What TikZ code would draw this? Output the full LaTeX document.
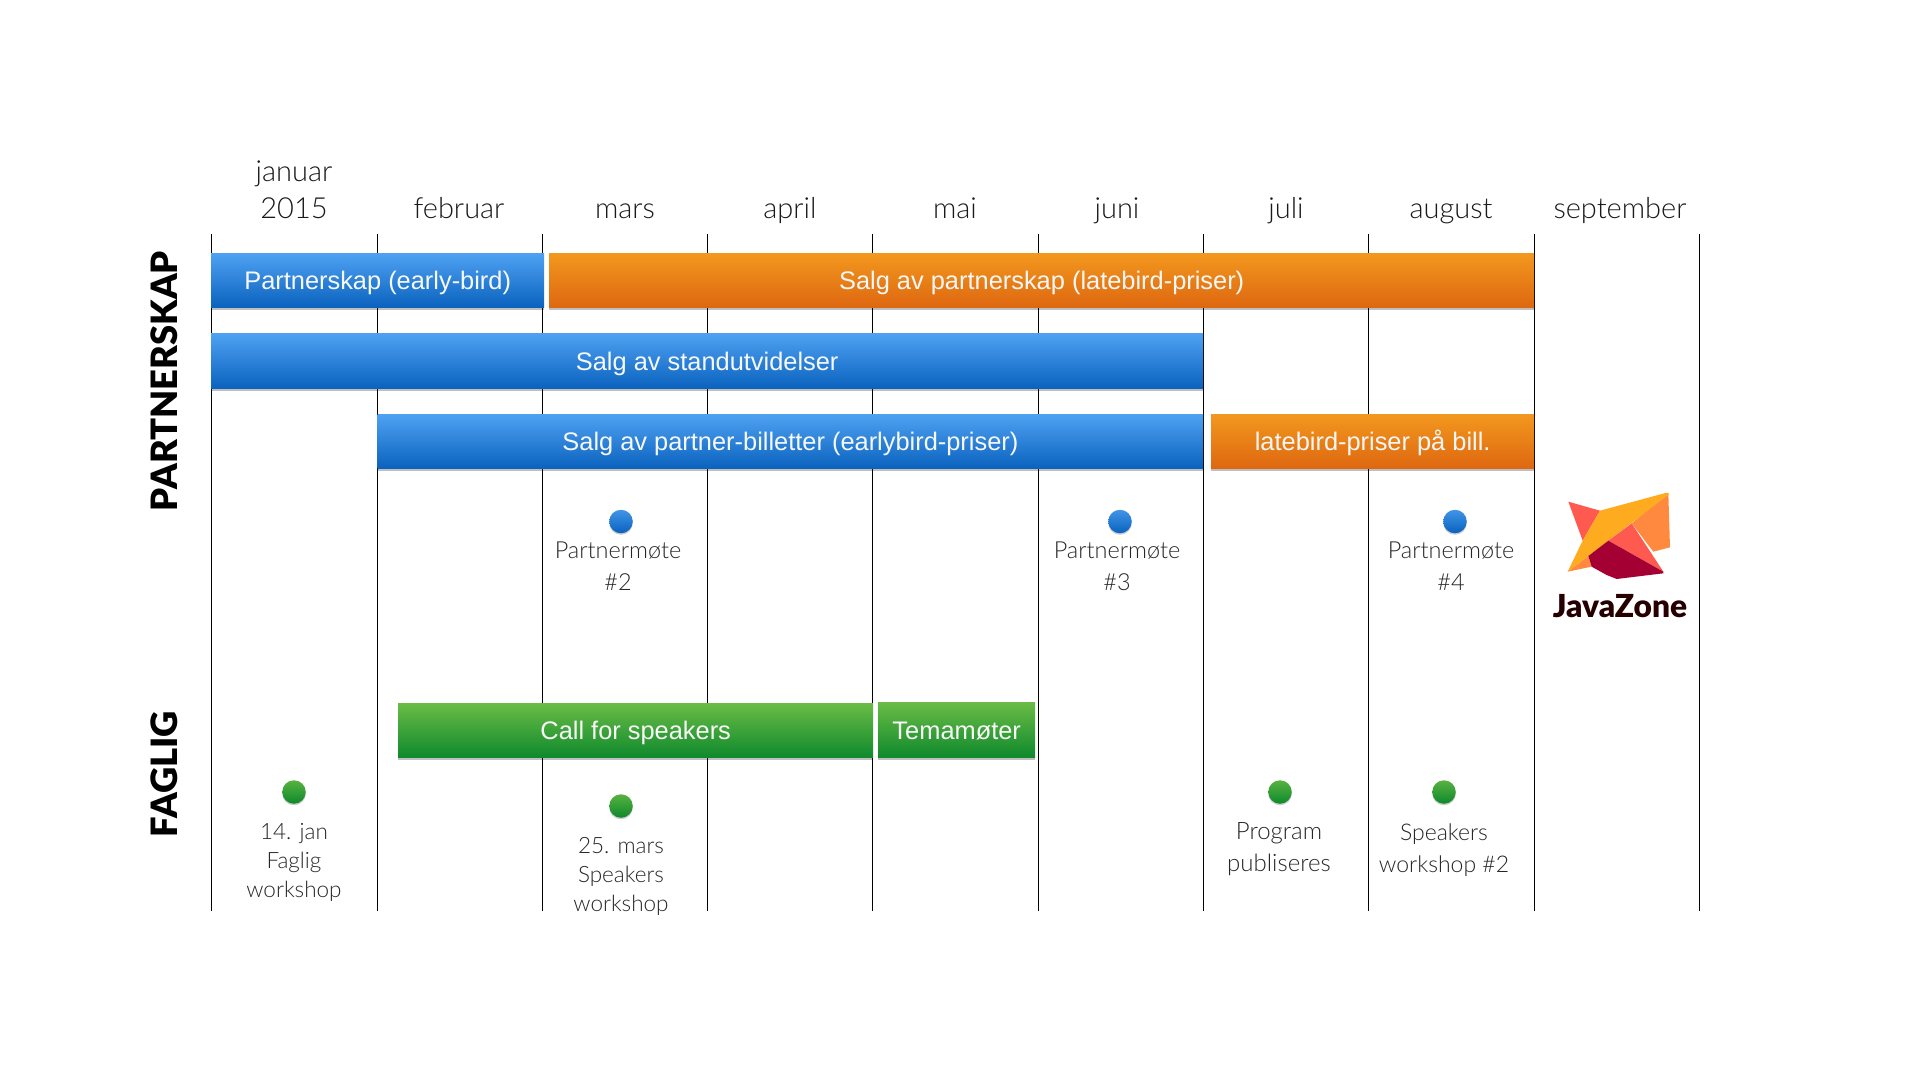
\documentclass[tikz,border=0pt]{standalone}
\usepackage{fontspec}
\setmainfont{Liberation Sans}
\newfontfamily\thinfont{Lato Light}
\newfontfamily\heavyfont{Lato Black}
\usetikzlibrary{shadows}

\definecolor{blueTop}{HTML}{4FA2F2}
\definecolor{blueBot}{HTML}{0A62BE}
\definecolor{orangeTop}{HTML}{F2981E}
\definecolor{orangeBot}{HTML}{DE6710}
\definecolor{greenTop}{HTML}{6ABC46}
\definecolor{greenBot}{HTML}{0E892C}
\definecolor{logoRed}{HTML}{FF5A50}
\definecolor{logoYellow}{HTML}{FFAB1F}
\definecolor{logoOrange}{HTML}{FF8A3F}
\definecolor{logoCrimson}{HTML}{A50034}

\tikzset{
	bar/.style = {rectangle, anchor = north west, inner sep = 0, text = white!97!black, text height = 25pt, text depth = 6pt,
		font = \fontsize{25.4}{32}\selectfont,
		drop shadow = {shadow xshift = 0pt, shadow yshift = -2pt, opacity = 0.25, fill = black}},
	bluebar/.style = {bar, top color = blueTop, bottom color = blueBot},
	orangebar/.style = {bar, top color = orangeTop, bottom color = orangeBot},
	greenbar/.style = {bar, top color = greenTop, bottom color = greenBot},
	bluedot/.style = {circle, minimum size = 23.5, inner sep = 0, top color = blueTop!80!blueBot, bottom color = blueBot,
		drop shadow = {shadow xshift = 0pt, shadow yshift = -1.5pt, opacity = 0.2, fill = black}},
	greendot/.style = {circle, minimum size = 23.5, inner sep = 0, top color = greenTop!80!greenBot, bottom color = greenBot,
		drop shadow = {shadow xshift = 0pt, shadow yshift = -1.5pt, opacity = 0.2, fill = black}},
	month/.style = {align = center, text = black!90, font = \thinfont\fontsize{29}{37}\selectfont},
	note/.style = {align = center, text = black!85, font = \thinfont\fontsize{23.5}{32}\selectfont},
	event/.style = {align = center, text = black!85, font = \thinfont\fontsize{22.5}{29}\selectfont},
	side/.style = {rotate = 90, font = \heavyfont\fontsize{36.3}{40}\selectfont}
}

\begin{document}
\begin{tikzpicture}[x = 1pt, y = -1pt]

	\useasboundingbox (0, 0) rectangle (1920, 1080);

	% Month lines

	\foreach \x in {211, 377.5, 542.5, 707, 872, 1038, 1203, 1368, 1534, 1699}
		\draw [line width = 1] (\x, 234) -- (\x, 911);

	% Month labels

	\node [month, anchor = south] (jan) at (294, 222) {januar\\2015};
	\foreach \name/\x/\label in {feb/459/februar, mar/625/mars, apr/790/april, may/955/mai, jun/1117/juni, jul/1286/juli, aug/1451/august, sep/1620/september}
		\node [month, anchor = base] (\name) at (\x, 218) {\label};

	% Side labels

	\node [side] (partnerskap) at (164, 381) {PARTNERSKAP};
	\node [side] (faglig) at (164, 774) {FAGLIG};

	% Bars

	\node [bluebar, minimum width = 333, minimum height = 54.5] (earlybird) at (211, 253) {Partnerskap (early-bird)};
	\node [orangebar, minimum width = 985, minimum height = 54.5] (latebird) at (549, 253) {Salg av partnerskap (latebird-priser)};
	\node [bluebar, minimum width = 992, minimum height = 55.5] (stand) at (211, 333) {Salg av standutvidelser};
	\node [bluebar, minimum width = 825.5, minimum height = 54.5] (tickets) at (377.5, 414) {Salg av partner-billetter (earlybird-priser)};
	\node [orangebar, minimum width = 323, minimum height = 54.5] (latetickets) at (1211, 414) {latebird-priser på bill.};
	\node [greenbar, minimum width = 475, minimum height = 54.5] (speakers) at (398, 703) {Call for speakers};
	\node [greenbar, minimum width = 157, minimum height = 55.5] (tema) at (878, 702) {Temamøter};

	% Partner meetings

	\foreach \name/\x/\tx/\n in {two/621/618/2, three/1120/1117/3, four/1455/1451/4} {
		\node [bluedot] (dot\name) at (\x, 521.5) {};
		\node [note, anchor = north] (meet\name) at (\tx, 538) {Partnermøte\\\#\n};
	}

	% Speaker events

	\node [greendot] (dotjan) at (294, 792) {};
	\node [event, anchor = north] (evjan) at (294, 819.5) {14. jan\\Faglig\\workshop};
	\node [greendot] (dotmar) at (621, 806) {};
	\node [event, anchor = north] (evmar) at (621, 833.5) {25. mars\\Speakers\\workshop};
	\node [greendot] (dotjul) at (1280, 792) {};
	\node [note, anchor = north, font = \thinfont\fontsize{24}{32}\selectfont] (evjul) at (1279, 819) {Program\\publiseres};
	\node [greendot] (dotaug) at (1444, 792) {};
	\node [note, anchor = north, font = \thinfont\fontsize{23}{32}\selectfont] (evaug) at (1444, 820) {Speakers\\workshop \#2};

	% Logo

	\begin{scope}[shift = {(1500, 460)}, x = 0.3333pt, y = -0.3333pt, line join = round]
		\fill [logoRed] (205, 125) -- (300, 152) -- (248, 242) -- cycle;
		\fill [logoOrange] (505, 98) -- (510, 262) -- (460, 275) -- (395, 190) -- cycle;
		\fill [logoOrange] (203, 335) -- (265, 288) -- (275, 320) -- cycle;
		\fill [logoYellow] (300, 152) -- (500, 98) -- (508, 102) -- (325, 242) -- (265, 288) -- (203, 335) -- (248, 242) -- cycle;
		\fill [logoRed] (395, 190) -- (490, 335) -- (325, 242) -- cycle;
		\fill [logoCrimson] (325, 242) -- (490, 335) -- (490, 340) -- (350, 357) -- (320, 345) -- (275, 320) -- (265, 288) -- cycle;
	\end{scope}
	\node [font = \heavyfont\fontsize{31.7}{34}\selectfont, text = black!85!red] (javazone) at (1620, 606) {JavaZone};

\end{tikzpicture}
\end{document}
